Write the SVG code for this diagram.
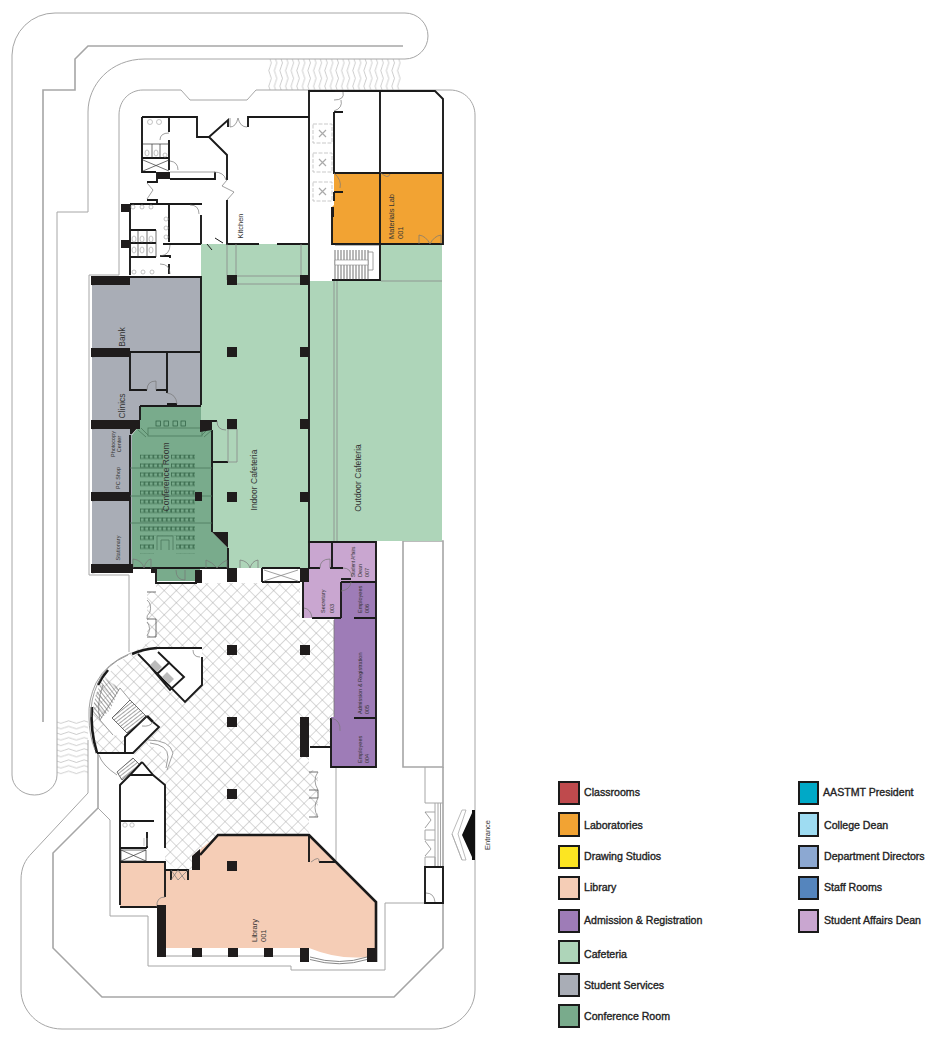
<svg xmlns="http://www.w3.org/2000/svg" width="936" height="1038" viewBox="0 0 936 1038">
<style>
.site{fill:none;stroke:#a6a6a6;stroke-width:1}
.site2{fill:none;stroke:#a6a6a6;stroke-width:1.6}
.wall{fill:none;stroke:#1a1a1a;stroke-width:1.9;stroke-linejoin:miter}
.heavy{fill:none;stroke:#1a1a1a;stroke-width:2.6}
.thin{fill:none;stroke:#333;stroke-width:.7}
.gr{fill:none;stroke:#888;stroke-width:.8}
.fx{fill:none;stroke:#aaa;stroke-width:.7}
.fxd{fill:none;stroke:#bbb;stroke-width:.8;stroke-dasharray:4 1.500}
.dk{fill:none;stroke:#4d7a5d;stroke-width:.8}
.seats{fill:none;stroke:#2c5c3f;stroke-width:.7}
.pier{fill:#1f1c1c}
.door{fill:none;stroke:#777;stroke-width:.7}
.lb{font:7.5px "Liberation Sans",Arial,sans-serif;fill:#333}
.lm{font:8.5px "Liberation Sans",Arial,sans-serif;fill:#333}
.ls{font:5.5px "Liberation Sans",Arial,sans-serif;fill:#333}
.lt{font:4.7px "Liberation Sans",Arial,sans-serif;fill:#333}
.lg{font:10.6px "Liberation Sans",Arial,sans-serif;fill:#222;stroke:#222;stroke-width:.35}
.sw{stroke:#1a1a1a;stroke-width:2}
</style>
<defs>
<pattern id="hatch" width="8.6" height="8.6" patternUnits="userSpaceOnUse" patternTransform="rotate(45 0 0)">
<path d="M0 0H8.6M0 0V8.6" stroke="#a8a8a8" stroke-width=".9" fill="none"/>
</pattern>
<pattern id="seat" x="140" y="454.5" width="4.45" height="9" patternUnits="userSpaceOnUse">
<rect x=".4" y=".4" width="3.5" height="3.6" fill="none" stroke="#2c5c3f" stroke-width=".6"/>
</pattern>
<pattern id="waveV" x="268" y="59" width="5.6" height="31" patternUnits="userSpaceOnUse">
<path d="M2 0q2.500 3.900 0 7.750t0 7.750 0 7.750 0 7.750" fill="none" stroke="#999" stroke-width=".5"/>
</pattern>
<pattern id="waveH" x="57" y="720" width="31" height="5.6" patternUnits="userSpaceOnUse">
<path d="M0 2q3.900 2.500 7.750 0t7.750 0 7.750 0 7.750 0" fill="none" stroke="#999" stroke-width=".5"/>
</pattern>
<pattern id="tread" x="0" y="0" width="3" height="3" patternUnits="userSpaceOnUse" patternTransform="rotate(-38)">
<path d="M1.500 0V3" stroke="#666" stroke-width=".6"/>
</pattern>
<pattern id="tread2" x="0" y="0" width="3" height="3" patternUnits="userSpaceOnUse" patternTransform="rotate(52)">
<path d="M1.500 0V3" stroke="#666" stroke-width=".6"/>
</pattern>
</defs>
<rect width="936" height="1038" fill="#fff"/>

<g id="site">
<path class="site" d="M12 55A43 43 0 0 1 55 13H405A22 22 0 0 1 405 59H145C110 59 88 85 88 112V212H57V775A22.500 20 0 0 1 12 775Z"/>
<path class="site2" d="M403 46H88L75 59V90H43V722"/>
<path class="site" d="M119 275V115C119 100 130 90 143 90H181L190 100H247L256 90H450C465 90 475 102 475 115V990C475 1012 455 1029 435 1029H62C38 1029 21 1010 21 990V880C21 868 25 860 32 853L88 793V740"/>
<path class="site" d="M129 575V652M89 275H119M89 275V575H129"/>
<path class="site2" d="M98 753V808L53 853V948L102 997H394L443 948V767"/>
<path class="site" d="M98 808L110 820V916H148V966H291V970H385V903H425"/>
<path class="site" d="M336 767V860"/>
<path class="site2" d="M403 541V767H443V541Z"/>
<path class="site" d="M425 767V803H443M435 803V867M438 803V867M440.500 803V867"/>
<path class="site" d="M425 812H435M425 830V840H435M425 830H435M425 857H435V867M425 857V867"/>
<path class="door" d="M425 812L431 820L425 828M425 841L431 849L425 856"/>
<rect x="268" y="59" width="134" height="31" fill="url(#waveV)"/>
<rect x="57" y="720" width="31" height="56" fill="url(#waveH)"/>
</g>

<g id="floors">
<path fill="url(#hatch)" d="M147 592H156V583H300V620H334V717L331 747H309V770H318V817H309V835H218L200 855L192 870L180 872L165 860V785L142 762L133 753H97L91 717L98 683L128 655L157 637H147Z"/>
<path fill="#fff" d="M138 654L157 648H202V685L185 702ZM120 688L100 720L113 735L125 737V753H133L159 727L147 716L130 700Z"/>
<path fill="#fff" d="M148 740Q170 740 173 753L167 770Q168 750 148 745Z"/>
</g>

<g id="rooms">
<path id="materials-lab" fill="#f2a333" d="M334 173H443V244H332V207L334 205Z"/>
<path id="cafeteria" fill="#aed5b9" d="M201 244H309V281H381V245H442V541H309V568H228V548L212 532V430L201 420Z"/>
<path id="bank-clinic" fill="#a9adb6" d="M92 277H201V406H140V422H92Z"/>
<rect id="services" x="92" y="422" width="40" height="146" fill="#a9adb6"/>
<path id="conference" fill="#79ab8c" d="M140 406H201V420L212 430V532L228 548V568H200V581H157V568H132V435L140 425Z"/>
<path id="student-affairs" fill="#c9a6d0" d="M308 542H376V581H341V618H303V582H301V569H308Z"/>
<path id="admission" fill="#9e7cb7" d="M341 581H376V767H331V717H334V619H341Z"/>
<path id="library" fill="#f5cdb6" d="M218 835H309L376 902V957H367Q338 960 309 948H166V907H120V862H165V870H192V856Z"/>
</g>

<g id="walls">
<path class="wall" d="M309 244V91H435L443 99V244H332V207M380 91V280H332M334 112V173H443M334 192H343M334 192V201M334 112H343"/>
<path class="wall" d="M142 117H197V137H209L228 120V127M142 117V172H156M209 137L227 155V180M169 118V132M169 140V170M142 158H169M147 182H157V172M248 127V117H309M227 200V244H259M277 244H308M170 179H215V172"/>
<path class="gr" d="M170 172H215"/>
<path class="wall" d="M130 204H202M130 204V275M169 204V242M163 244H201M201 215V244M160 256H170V258M169 264V274M130 230H156M130 243H156M130 257H156M147 200H157V204"/>
<path class="thin" d="M138 230V257M147 230V257M156 230V257M152 144V158M160 144V158M143 144H169M143 160L169 171M169 160L143 171"/>
<path class="gr" d="M227 244V280M236 244V280M301 244V280M236 276H301M236 284H301"/>
<path class="gr" d="M334 281V541M337 281V541M381 281H442"/>
<path class="thin" d="M335 245H380M335 250V280M338 250V280M341 250V280M344 250V280M347 250V280M350 250V280M353 250V280M356 250V280M359 250V280M362 250V280M365 250V280M368 250V280"/>
<path fill="#fff" stroke="#888" stroke-width=".6" d="M335 260H368V265H335Z"/>
<path class="gr" d="M368 252H373V270H368"/>
<path class="wall" d="M92 277H201V405M130 353V390H147M156 390H167M130 352H200M167 353V393M167 404H177M140 406H201M140 406V420M130 435V564M212 430V532M228 548V568M212 462H228M212 421H217M130 568H228M156 570V583H197M262 568H300M262 582H300M262 568V582M309 244V568"/>
<path class="gr" d="M228 429V462M237 429V462M228 429H237M228 462H237M264 570L298 581M298 570L264 581"/>
<path class="wall" d="M308 542H376V767H331V718M332 542V568M308 568H320M330 568H343V568M303 582V618M312 618H341M341 582V618M341 582H376M354 618H376M354 718H376M310 747H331"/>
<path class="wall" d="M341 579H351"/>
<path fill="none" stroke="#777" stroke-width=".8" d="M334 620V717"/>
<path class="wall" d="M138 654L185 702L202 685V657M157 648H202M158 652L184 677L170 690L147 663M157 674L170 662"/>
<path class="wall" d="M147 716L125 737V753M97 753H133L159 727L153 722"/>
<path class="heavy" d="M132 654Q143 649 157 648M108 670Q102 677 98 685M92 707Q90 730 97 753M147 716L153 722"/>
<path class="gr" d="M128 655Q105 665 98 683Q90 700 91 717M131 653Q106 663 96 683Q88 700 89 717Q89 735 95 750"/>
<path class="gr" d="M120 688L100 720L113 735M100 720Q96 705 103 685M130 700L120 688"/>
<path fill="url(#tread)" d="M104 678L120 688L110 710L100 720L93 713Q93 695 104 678Z"/>
<path fill="url(#tread2)" d="M130 700L147 717L127 733L112 718Z"/>
<path class="thin" d="M130 700L147 717L127 733L112 718Z"/>
<path class="gr" d="M148 740Q170 740 173 753L167 770M150 743Q168 745 168 757L166 768"/>
<path class="gr" d="M99 755Q102 765 117 775"/>
<path fill="url(#tread2)" d="M117 772L133 758L140 765L122 780Z"/>
<path class="thin" d="M117 772L133 758L140 765L122 780Z"/>
<path class="wall" d="M142 762L130 775H153L142 762M130 775L120 785V905M153 775L165 785V848M120 821H154M120 848H147M147 832V848M120 862H165V897M120 907H157M165 862V870H188V880M171 870V880M309 835V862M319 862H335"/>
<path class="heavy" d="M200 855L218 835H309L376 902V962"/>
<path class="thin" d="M121 850H146V861H121ZM121 850L146 861M146 850L121 861"/>
<path class="gr" d="M166 956H300"/>
<path fill="none" stroke="#888" stroke-width="1" d="M310 957Q340 966 367 957M310 959.500Q340 968 367 959.500"/>
<path class="wall" d="M425 867H443V903H425Z"/>
<path class="thin" d="M147 592H156M147 619H156V637M147 637H156M309 772H318M309 790H318V798H309M309 817H318"/>
</g>

<g id="doors">
<path class="door" d="M230 118V127Q236 127 238 118Q240 127 247 127"/>
<path class="door" d="M334 111Q343 108 341 100M334 100Q345 100 343 92"/>
<path class="door" d="M334 173Q342 180 340 188"/>
<path class="door" d="M380 172Q388 180 390 174M419 244V235M441 244V235M419 235Q426 236 430 244M441 235Q434 236 430 244"/>
<path class="door" d="M169 133Q160 133 160 140M170 161Q178 162 178 170M190 205Q199 205 199 214M160 256Q170 255 170 245M160 264Q170 264 170 274"/>
<path class="door" d="M227 180L222 186L234 192L227 200M214 172Q224 172 226 180"/>
<path class="door" d="M147 183L153 190L147 199"/>
<path class="wall" style="stroke-width:1" d="M207 244L212 250M215 238L223 243"/>
<path class="door" d="M92 285Q101 285 102 276M92 357Q101 357 102 348M92 429Q101 429 102 420M92 501Q101 501 102 492M92 573Q101 573 102 564"/>
<path class="door" d="M147 390Q147 381 156 381V390M167 393Q176 394 177 404"/>
<path class="door" d="M217 421Q217 430 226 430M133 568V559Q142 560 144 568M144 568Q146 560 151 559V568"/>
<path class="door" d="M206 568V560M206 560Q212 562 217 568M217 568Q222 562 227 560V568M240 568V560Q248 561 250 568M250 568Q252 561 258 560V568"/>
<path class="door" d="M176 570Q176 580 185 580V570"/>
<path class="door" d="M320 568Q320 559 330 559V568M343 568Q351 568 352 577M341 591Q350 590 351 582"/>
<path class="door" d="M304 608Q311 609 312 618M331 718Q341 720 340 731"/>
<path class="door" d="M193 650Q193 657 200 657M153 722Q150 727 142 726"/>
<path class="door" d="M157 907Q156 897 165 897M311 862Q320 855 319 862M435 902Q434 893 426 893"/>
<path class="door" d="M171 880L178 870L185 880M171 870L178 880L188 870"/>
<path class="door" d="M147 600Q152 604 150 612Q146 616 147 619M147 622Q152 628 147 636M318 772Q312 780 318 790M318 798Q312 808 318 817"/>
</g>

<g id="fixtures">
<g class="fxd">
<rect x="313" y="124" width="19" height="19"/><rect x="313" y="153" width="19" height="19"/><rect x="313" y="182" width="19" height="19"/>
</g>
<path class="fx" style="stroke-width:1.200" d="M319 130L326 137M326 130L319 137M319 159L326 166M326 159L319 166M319 188L326 195M326 188L319 195"/>
<g class="fx">
<circle cx="150" cy="122" r="2.500"/><circle cx="159" cy="122" r="2.500"/><circle cx="133" cy="207" r="2"/><circle cx="142" cy="207" r="2"/><circle cx="151" cy="207" r="2"/>
<circle cx="166" cy="219" r="2"/><circle cx="166" cy="228" r="2"/><circle cx="166" cy="237" r="2"/>
<circle cx="134" cy="272" r="2"/><circle cx="143" cy="272" r="2"/><circle cx="152" cy="272" r="2"/>
<circle cx="125" cy="825" r="2.200"/><circle cx="132" cy="825" r="2.200"/>
<ellipse cx="147" cy="153" rx="2" ry="3"/><ellipse cx="156" cy="153" rx="2" ry="3"/><ellipse cx="165" cy="155" rx="2" ry="2"/>
<ellipse cx="134" cy="239" rx="2" ry="3"/><ellipse cx="142" cy="239" rx="2" ry="3"/><ellipse cx="151" cy="239" rx="2" ry="3"/>
<ellipse cx="134" cy="250" rx="2" ry="3"/><ellipse cx="142" cy="250" rx="2" ry="3"/><ellipse cx="151" cy="250" rx="2" ry="3"/>
<path d="M144 838V846M147 838V846"/>
</g>
<path fill="#bbb" d="M150 665L157 672L162 667L155 660ZM162 677L169 684L174 679L167 672Z"/>
<rect x="148" y="428" width="54" height="8" class="dk" fill="#8fbb9f"/>
<path class="dk" d="M138 430L146 437M204 437L212 430M141 428L148 435M202 435L209 428"/>
<g class="seats">
<rect x="156" y="421" width="4.500" height="5"/><rect x="164" y="421" width="4.500" height="5"/><rect x="173" y="421" width="4.500" height="5"/><rect x="181" y="421" width="4.500" height="5"/>
</g>
<rect x="140" y="454.500" width="23" height="54" fill="url(#seat)"/>
<rect x="171" y="454.500" width="24" height="54" fill="url(#seat)"/>
<rect x="140" y="508.500" width="55" height="27" fill="url(#seat)"/>
<rect x="140" y="535.500" width="14" height="18" fill="url(#seat)"/>
<rect x="176" y="535.500" width="19" height="18" fill="url(#seat)"/>
<path class="dk" d="M130 468H212M130 496H212M130 523H212M157 550V536H173V550M161 550V540H169V550"/>
<path d="M452 834L462 810H466L458 834L466 860H462ZM452 834L462 860" fill="none" stroke="#aaa" stroke-width=".8"/>
<path d="M462 835L472 813V810H475V860H472V857Z" fill="#111"/>
</g>

<g id="piers">
<path class="pier" d="M91 276h39v9h-39zM91 348h39v9h-39zM91 420h49v9h-49zM91 492h39v9h-39zM91 564h42v9h-42z"/>
<path class="pier" d="M227 275h10v10h-10zM300 275h9v10h-9zM227 347h10v10h-10zM300 347h9v10h-9zM227 419h10v10h-10zM300 419h9v10h-9zM227 492h10v10h-10zM300 492h9v10h-9zM195 492h7v9h-7z"/>
<path class="pier" d="M227 568h10v14h-10zM300 568h9v14h-9zM195 570h7v13h-7zM151 568h6v5h-6z"/>
<path class="pier" d="M227 645h10v10h-10zM300 645h10v10h-10zM227 717h10v10h-10zM227 789h10v10h-10zM300 717h9v40h-9zM227 861h10v10h-10z"/>
<path class="pier" d="M157 905h9v52h-9zM192 948h10v9h-10zM228 948h10v9h-10zM264 948h9v9h-9zM300 948h9v14h-9zM367 948h10v14h-10zM192 856l8-7v21h-8z"/>
<path class="pier" d="M157 172h13v7h-13zM121 204h9v8h-9zM121 240h9v8h-9zM200 420h12v10l-12 2zM140 420v5l-8 9h-2v-14zM212 532h16v16zM300 568h8v14h-8zM331 207h3v10h-3zM335 90h10v2h-10z"/>
</g>

<g id="labels">
<text class="lb" transform="translate(242.500,226) rotate(-90)" text-anchor="middle">Kitchen</text>
<text class="lb" transform="translate(393.500,239) rotate(-90)">Materials Lab</text>
<text class="lb" transform="translate(402.500,239) rotate(-90)">001</text>
<text class="lm" transform="translate(125,337) rotate(-90)" text-anchor="middle">Bank</text>
<text class="lm" transform="translate(125,406) rotate(-90)" text-anchor="middle">Clinics</text>
<text class="ls" transform="translate(114.500,444) rotate(-90)" text-anchor="middle">Photocopy</text>
<text class="ls" transform="translate(121,444) rotate(-90)" text-anchor="middle">Center</text>
<text class="ls" transform="translate(120,478) rotate(-90)" text-anchor="middle">PC Shop</text>
<text class="ls" transform="translate(120,548) rotate(-90)" text-anchor="middle">Stationary</text>
<text class="lm" transform="translate(169,477) rotate(-90)" text-anchor="middle">Conference Room</text>
<text class="lm" transform="translate(257,480) rotate(-90)" text-anchor="middle">Indoor Cafeteria</text>
<text class="lm" transform="translate(361,478) rotate(-90)" text-anchor="middle">Outdoor Cafeteria</text>
<text class="lt" transform="translate(355,577) rotate(-90)">Student Affairs</text>
<text class="ls" transform="translate(362,577) rotate(-90)">Dean</text>
<text class="ls" transform="translate(369,577) rotate(-90)">007</text>
<text class="ls" transform="translate(325,613) rotate(-90)">Secretary</text>
<text class="ls" transform="translate(334,613) rotate(-90)">003</text>
<text class="ls" transform="translate(362,613) rotate(-90)">Employees</text>
<text class="ls" transform="translate(369,613) rotate(-90)">006</text>
<text class="ls" transform="translate(362,714) rotate(-90)">Admission &amp; Registration</text>
<text class="ls" transform="translate(369,714) rotate(-90)">005</text>
<text class="ls" transform="translate(362,763) rotate(-90)">Employees</text>
<text class="ls" transform="translate(369,763) rotate(-90)">004</text>
<text class="lb" transform="translate(257,942) rotate(-90)">Library</text>
<text class="lb" transform="translate(266,942) rotate(-90)">001</text>
<text class="lb" transform="translate(490,835) rotate(-90)" text-anchor="middle">Entrance</text>
</g>

<g id="legend">
<g id="legend-classrooms"><rect class="sw" x="559" y="782" width="20" height="22" fill="#bf4a4d"/><text class="lg" x="584" y="796">Classrooms</text></g>
<g id="legend-laboratories"><rect class="sw" x="559" y="813" width="20" height="23" fill="#f2a333"/><text class="lg" x="584" y="829">Laboratories</text></g>
<g id="legend-drawing"><rect class="sw" x="559" y="846" width="20" height="22" fill="#fce522"/><text class="lg" x="584" y="860">Drawing Studios</text></g>
<g id="legend-library"><rect class="sw" x="559" y="877" width="20" height="22" fill="#f5cdb6"/><text class="lg" x="584" y="891">Library</text></g>
<g id="legend-admission"><rect class="sw" x="559" y="910" width="20" height="22" fill="#9e7cb7"/><text class="lg" x="584" y="924">Admission &amp; Registration</text></g>
<g id="legend-cafeteria"><rect class="sw" x="559" y="941" width="20" height="22" fill="#aed5b9"/><text class="lg" x="584" y="958">Cafeteria</text></g>
<g id="legend-services"><rect class="sw" x="559" y="974" width="20" height="22" fill="#a9adb6"/><text class="lg" x="584" y="989">Student Services</text></g>
<g id="legend-conference"><rect class="sw" x="559" y="1005" width="20" height="22" fill="#79ab8c"/><text class="lg" x="584" y="1020">Conference Room</text></g>
<g id="legend-president"><rect class="sw" x="799" y="782" width="19" height="22" fill="#00a9c7"/><text class="lg" x="823" y="796">AASTMT President</text></g>
<g id="legend-dean"><rect class="sw" x="799" y="813" width="19" height="23" fill="#9edcf2"/><text class="lg" x="824" y="829">College Dean</text></g>
<g id="legend-directors"><rect class="sw" x="799" y="846" width="19" height="22" fill="#8ca8d2"/><text class="lg" x="824" y="860">Department Directors</text></g>
<g id="legend-staff"><rect class="sw" x="799" y="877" width="19" height="22" fill="#5585bd"/><text class="lg" x="824" y="891">Staff Rooms</text></g>
<g id="legend-affairs"><rect class="sw" x="799" y="910" width="19" height="22" fill="#c9a6d0"/><text class="lg" x="824" y="924">Student Affairs Dean</text></g>
</g>
</svg>
